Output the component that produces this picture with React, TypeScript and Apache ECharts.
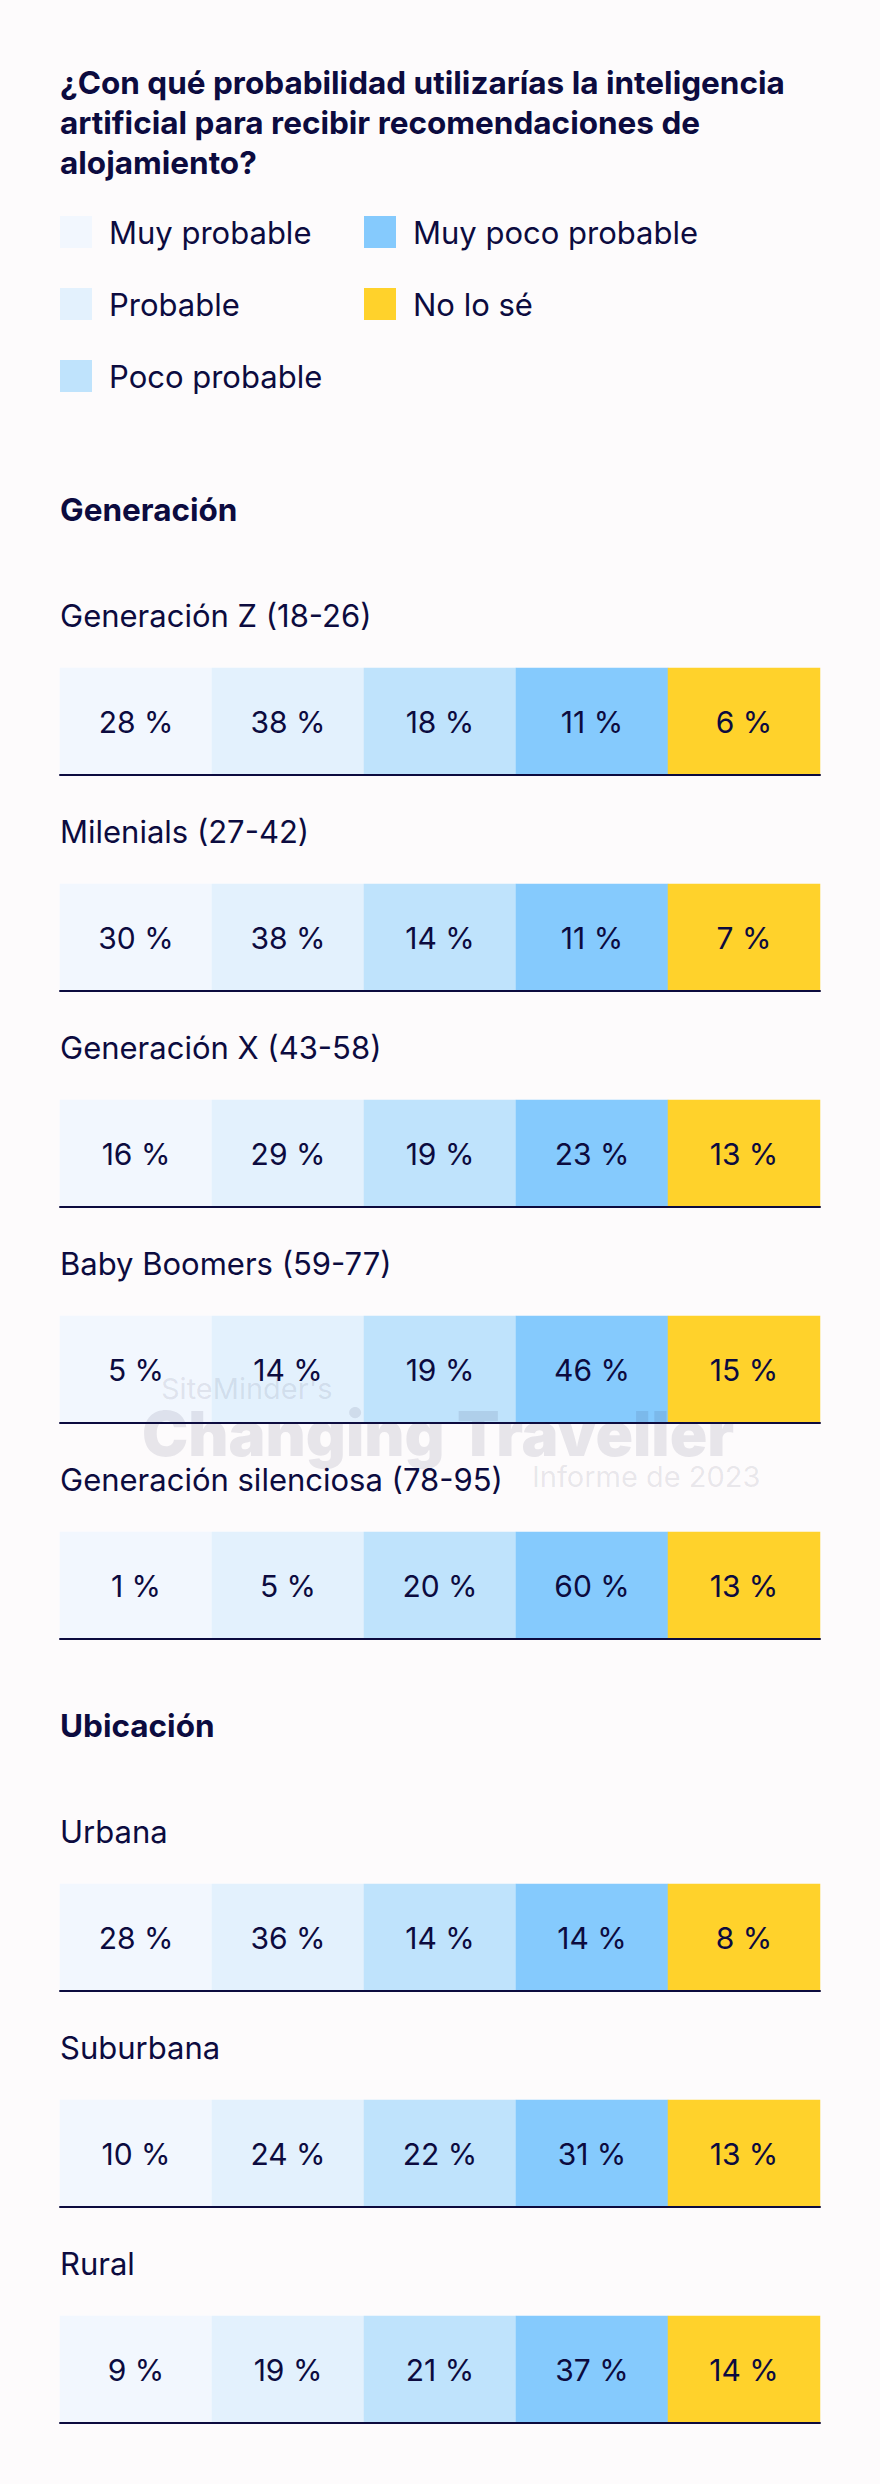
import React, { useEffect, useRef } from "react";
import * as echarts from "echarts";

const titleLines = [
  "¿Con qué probabilidad utilizarías la inteligencia",
  "artificial para recibir recomendaciones de",
  "alojamiento?",
];
const responses = ["Muy probable", "Probable", "Poco probable", "Muy poco probable", "No lo sé"];
const responseColors = ["#F2F7FE", "#E3F1FD", "#BFE3FC", "#85CAFD", "#FFD22B"];
const sectionNames = ["Generación", "Ubicación"];
const rowLabels = [
  "Generación Z (18-26)",
  "Milenials (27-42)",
  "Generación X (43-58)",
  "Baby Boomers (59-77)",
  "Generación silenciosa (78-95)",
  "Urbana",
  "Suburbana",
  "Rural",
];
const rowSection = [0, 0, 0, 0, 0, 1, 1, 1];
const genZ = [28, 38, 18, 11, 6];
const milenials = [30, 38, 14, 11, 7];
const genX = [16, 29, 19, 23, 13];
const boomers = [5, 14, 19, 46, 15];
const silent = [1, 5, 20, 60, 13];
const urbana = [28, 36, 14, 14, 8];
const suburbana = [10, 24, 22, 31, 13];
const rural = [9, 19, 21, 37, 14];
const rowValues = [genZ, milenials, genX, boomers, silent, urbana, suburbana, rural];
const watermark = ["SiteMinder's", "Changing Traveller", "Informe de 2023"];

const NAVY = "#0C0B3F";
const FONT = "Inter, 'Noto Sans', sans-serif";

export default function App() {
  const ref = useRef<HTMLDivElement>(null);
  useEffect(() => {
    if (!ref.current) return;
    const chart = echarts.init(ref.current, undefined, { renderer: "svg" });

    const left = 60;
    const width = 760;
    const sectionCenters = [509, 1725];
    const rowStep = 216;
    const barH = 107;

    const grids: any[] = [];
    const xAxes: any[] = [];
    const yAxes: any[] = [];
    const series: any[] = [];
    const graphics: any[] = [];

    const txt = (x: number, y: number, text: string, font: string, fill = NAVY, z = 50) => ({
      type: "text",
      x,
      y,
      z,
      style: {
        text,
        fill,
        font,
        textAlign: "left",
        textVerticalAlign: "middle",
        align: "left",
        verticalAlign: "middle",
      },
    });

    titleLines.forEach((t, i) => {
      graphics.push(txt(left, 82 + i * 40, t, `700 31.5px ${FONT}`));
    });

    responses.forEach((r, j) => {
      const col = Math.floor(j / 3);
      const row = j % 3;
      const x = left + col * 304;
      const cy = 232 + row * 72;
      graphics.push({
        type: "rect",
        shape: { x, y: cy - 16, width: 32, height: 32 },
        style: { fill: responseColors[j] },
      });
      graphics.push(txt(x + 49, cy, r, `400 31px ${FONT}`));
    });

    sectionNames.forEach((s, k) => {
      graphics.push(txt(left, sectionCenters[k], s, `700 31.5px ${FONT}`));
    });

    const rowInSection = [0, 0];
    rowLabels.forEach((label, i) => {
      const s = rowSection[i];
      const idx = rowInSection[s]++;
      const labelCenter = sectionCenters[s] + 106.5 + idx * rowStep;
      const barTop = sectionCenters[s] + 159 + idx * rowStep;
      graphics.push(txt(left, labelCenter, label, `400 31px ${FONT}`));
      grids.push({ left, width, top: barTop, height: barH, containLabel: false });
      xAxes.push({
        type: "category",
        gridIndex: i,
        data: responses,
        z: 10,
        axisLine: { show: true, lineStyle: { color: NAVY, width: 2 } },
        axisTick: { show: false },
        axisLabel: { show: false },
        splitLine: { show: false },
      });
      yAxes.push({
        type: "category",
        gridIndex: i,
        data: [label],
        show: false,
      });
      series.push({
        type: "heatmap",
        xAxisIndex: i,
        yAxisIndex: i,
        data: rowValues[i].map((v, j) => [j, 0, v]),
        label: {
          show: true,
          formatter: (p: any) => `${p.value[2]} %`,
          color: NAVY,
          fontSize: 30,
          fontFamily: FONT,
          fontWeight: 400,
        },
        emphasis: { disabled: true },
      });
    });

    const wm = "rgba(40,40,80,0.1)";
    graphics.push(txt(161, 1388, watermark[0], `400 29px ${FONT}`, wm, 100));
    graphics.push(txt(142, 1433, watermark[1], `900 62px ${FONT}`, wm, 100));
    graphics.push(txt(532, 1476, watermark[2], `400 29px ${FONT}`, wm, 100));

    chart.setOption({
      animation: false,
      backgroundColor: "#FDFBFC",
      tooltip: { show: false },
      grid: grids,
      xAxis: xAxes,
      yAxis: yAxes,
      visualMap: {
        type: "piecewise",
        show: false,
        dimension: 0,
        seriesIndex: rowLabels.map((_, i) => i),
        pieces: responseColors.map((c, j) => ({ value: j, color: c })),
      },
      series,
      graphic: { elements: graphics },
    });
    return () => chart.dispose();
  }, []);
  return (
    <div
      ref={ref}
      style={{ position: "absolute", left: 0, top: 0, width: 880, height: 2484 }}
    />
  );
}
